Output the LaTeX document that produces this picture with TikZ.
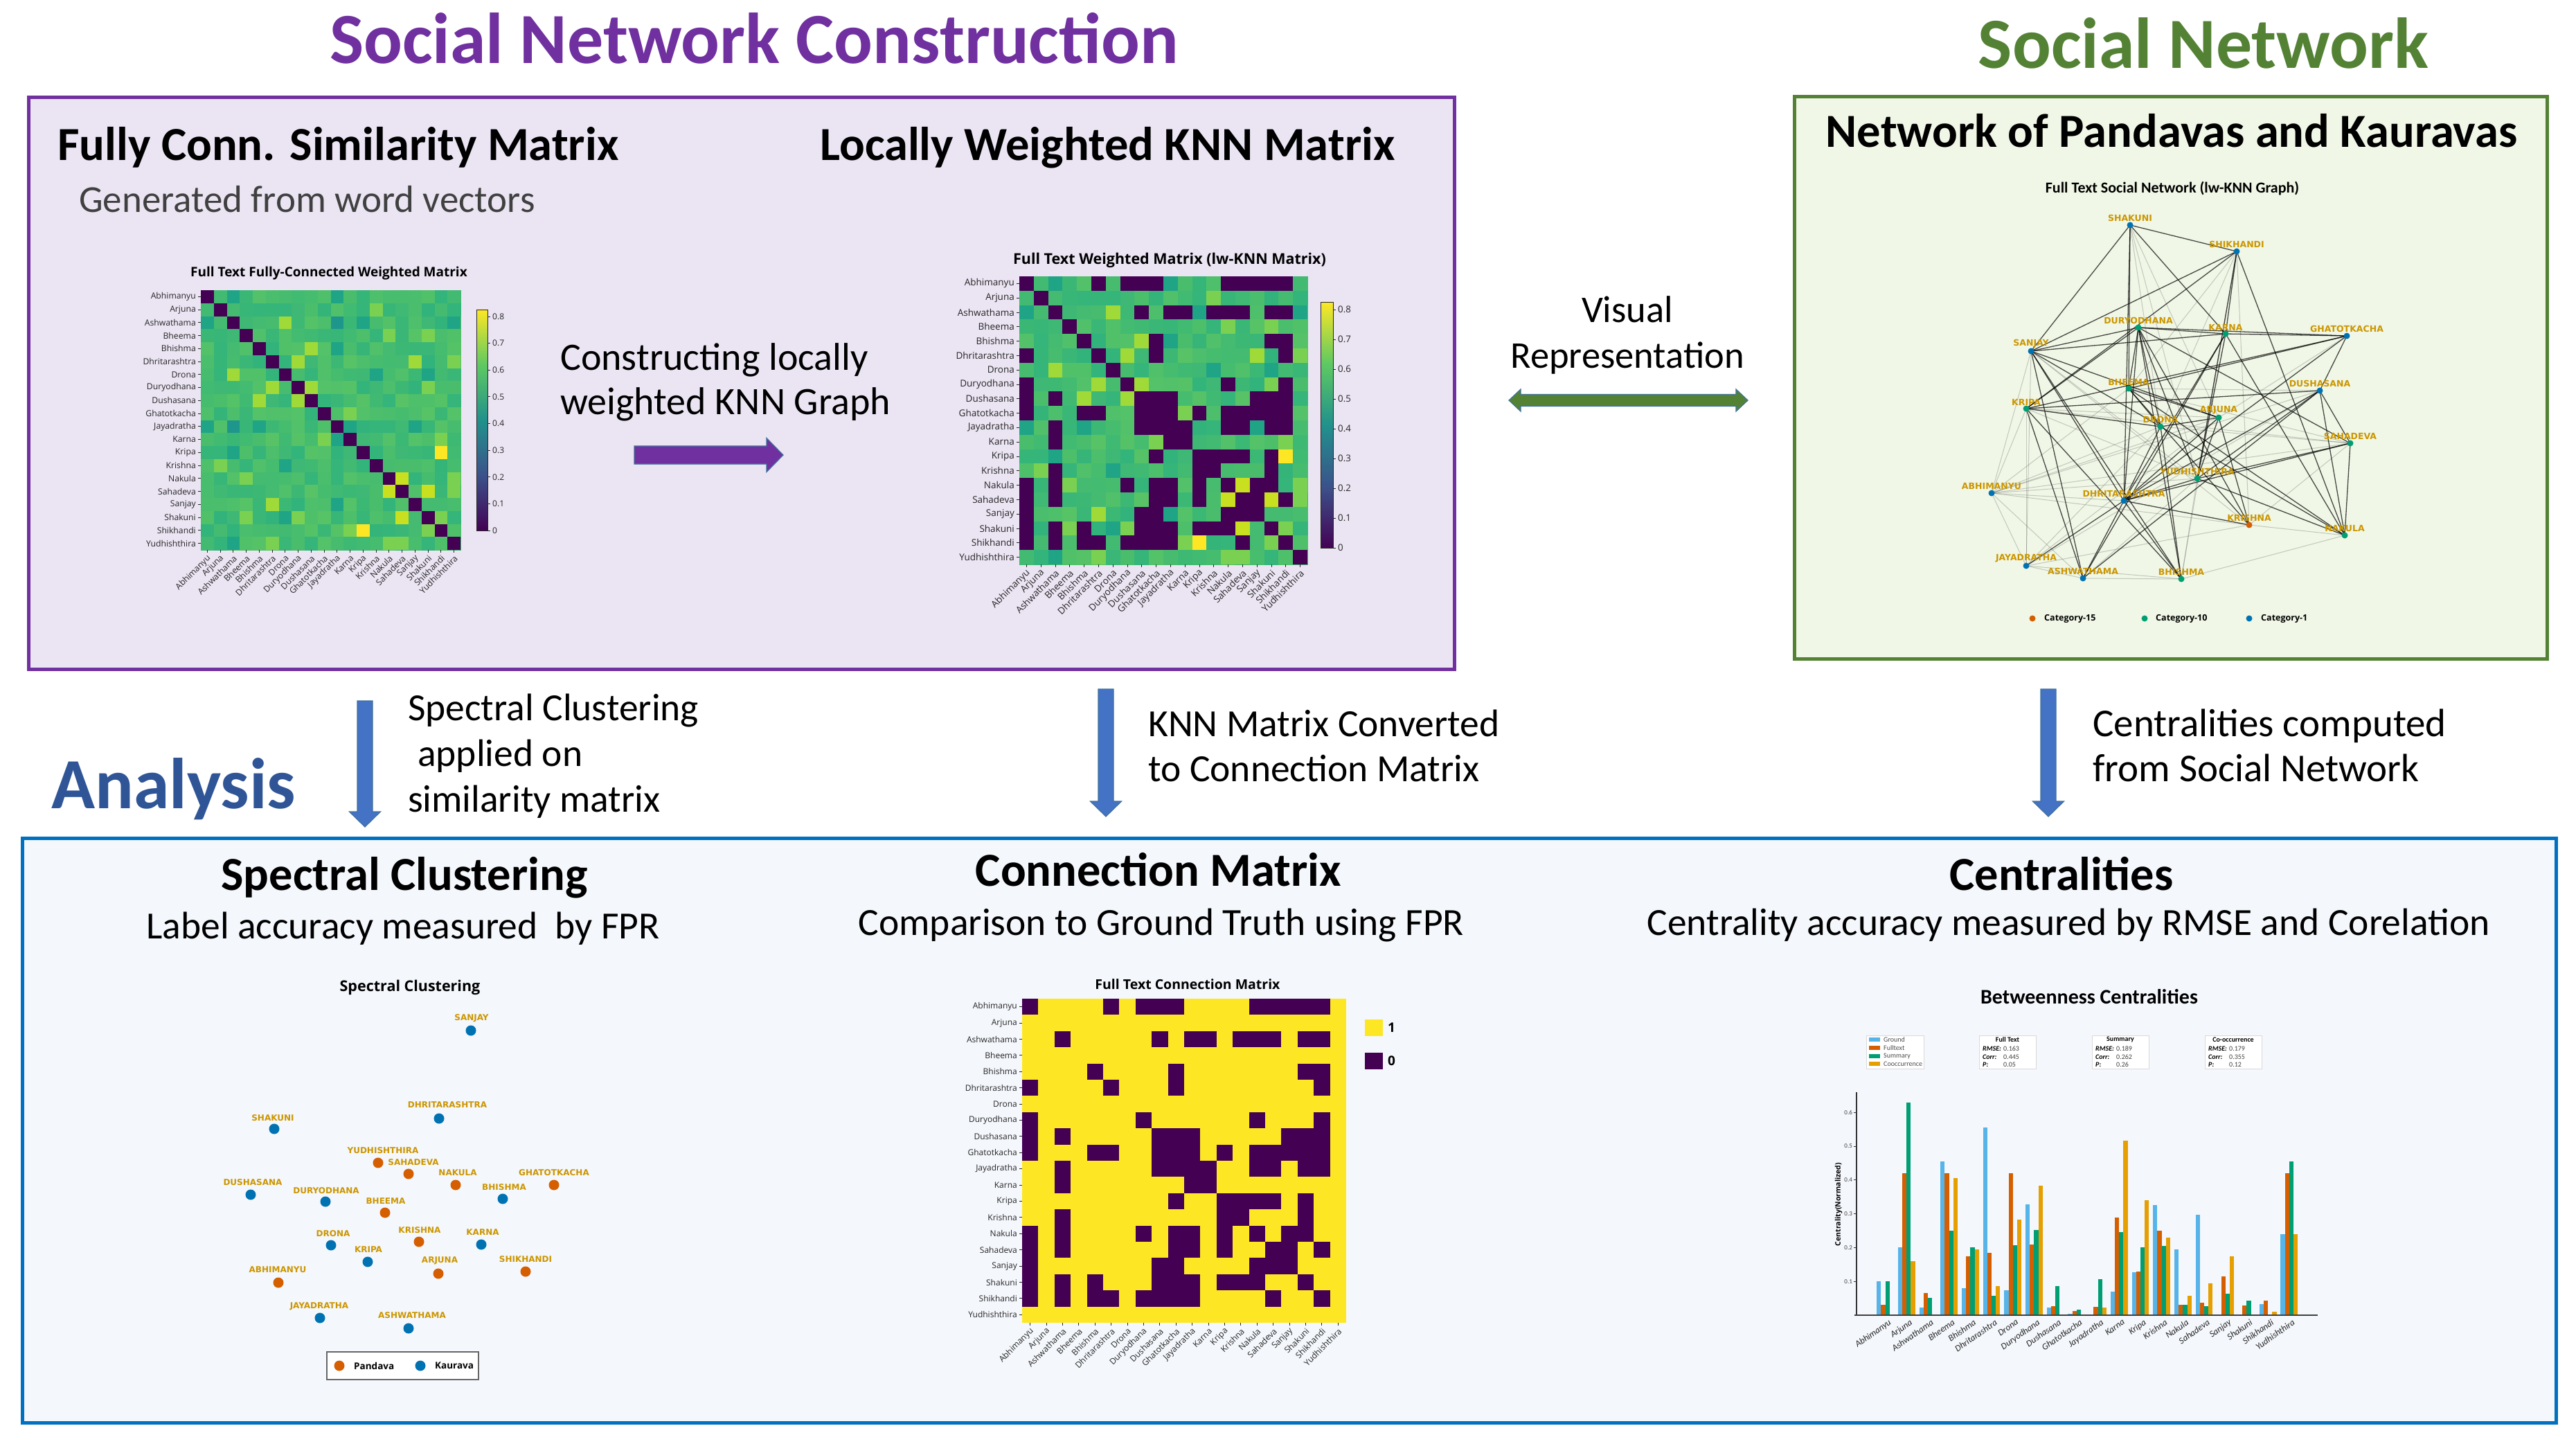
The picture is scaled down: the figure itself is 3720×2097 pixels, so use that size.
\documentclass[tikz,border=0pt]{standalone}
\usepackage{fontspec}
\setmainfont{Carlito}
\newfontfamily\plotf{Open Sans}
\newfontfamily\labf{DejaVu Sans}
\usetikzlibrary{calc}
\newcommand\fsz[1]{\fontsize{#1}{#1}\selectfont}

\definecolor{tpurple}{RGB}{112,48,160}
\definecolor{tgreen}{RGB}{84,130,53}
\definecolor{tblue}{RGB}{47,85,151}
\definecolor{boxblue}{RGB}{0,112,192}
\definecolor{arrblue}{RGB}{68,114,196}
\definecolor{arroutline}{RGB}{65,113,156}
\definecolor{fillpurple}{RGB}{235,228,243}
\definecolor{fillgreen}{RGB}{240,247,230}
\definecolor{fillblue}{RGB}{244,247,252}
\definecolor{txtgray}{RGB}{64,64,64}
\definecolor{vir0}{RGB}{68,1,84}
\definecolor{vir1}{RGB}{59,82,139}
\definecolor{vir2}{RGB}{33,145,140}
\definecolor{vir3}{RGB}{94,201,98}
\definecolor{vir4}{RGB}{253,231,37}
\definecolor{vLo}{RGB}{42,176,127}
\definecolor{vHi}{RGB}{108,204,90}
\definecolor{hA}{RGB}{122,209,81}
\definecolor{hB}{RGB}{160,218,57}
\definecolor{hC}{RGB}{200,224,32}
\definecolor{hD}{RGB}{253,231,37}
\definecolor{lA}{RGB}{32,164,134}
\definecolor{lB}{RGB}{31,150,139}
\definecolor{cblue}{RGB}{0,114,178}
\definecolor{cgreen}{RGB}{0,158,115}
\definecolor{corange}{RGB}{213,94,0}
\definecolor{cgold}{RGB}{204,150,0}
\definecolor{bGround}{RGB}{86,180,233}
\definecolor{bFull}{RGB}{213,94,0}
\definecolor{bSum}{RGB}{0,158,115}
\definecolor{bCo}{RGB}{230,159,0}
\definecolor{plottxt}{RGB}{38,38,38}

\def\names{Abhimanyu,Arjuna,Ashwathama,Bheema,Bhishma,Dhritarashtra,Drona,Duryodhana,Dushasana,Ghatotkacha,Jayadratha,Karna,Kripa,Krishna,Nakula,Sahadeva,Sanjay,Shakuni,Shikhandi,Yudhishthira}
\def\zerolist{0/{0,5,7,8,9,14,15,16,17,18},2/{2,8,10,11,13,14,15,17,18},4/{4,9,17,18},5/{0,5,9,18},7/{0,7,14,18},8/{0,2,8,9,10,16,17,18},9/{0,4,5,8,9,10,12,14,15,16,17,18},10/{2,8,9,10,11,14,15,17,18},11/{2,10,11},12/{9,12,13,14,15,17},13/{2,12,13,17},14/{0,2,7,9,10,12,14,16,17},15/{0,2,9,10,12,15,16,18},16/{0,8,9,14,15,16},17/{0,2,4,8,9,10,12,13,14,17},18/{0,2,4,5,7,8,9,10,15,18}}
\def\hilist{2/6/hB,4/8/hB,5/7/hB,7/8/hB,5/16/hB,12/18/hD,14/15/hC,15/17/hC,9/11/hA,7/17/hA,17/18/hA,1/13/hA,14/19/hA,15/19/hA,5/19/hA,3/14/hA,3/17/hA,11/18/hA,0/2/lA,0/10/lA,2/10/lB,2/19/lA,6/13/lA,10/11/lA,2/12/lA,4/10/lA,10/16/lA,6/17/lA}

% heatmap: x0 y0 cell mode(0 full,1 knn,2 connection)
\newcommand\heatmap[4]{%
  \ifnum#4=2
    \fill[vir4] (#1,#2) rectangle ({#1+20*#3},{#2+20*#3});
  \else
    \foreach \r in {0,...,19}{\foreach \c in {0,...,19}{%
      \pgfmathtruncatemacro\p{10+mod(13*(\r+\c)+7*\r*\c+3*mod((\r+\c)*(\r+\c),17)+11,61)}%
      \fill[vHi!\p!vLo] ({#1+\c*#3},{#2+\r*#3}) rectangle ({#1+(\c+1)*#3+0.5},{#2+(\r+1)*#3+0.5});
    }}
    \foreach \a/\b/\col in \hilist {%
      \fill[\col] ({#1+\b*#3},{#2+\a*#3}) rectangle ({#1+(\b+1)*#3},{#2+(\a+1)*#3});
      \fill[\col] ({#1+\a*#3},{#2+\b*#3}) rectangle ({#1+(\a+1)*#3},{#2+(\b+1)*#3});
    }
    \foreach \k in {0,...,19}{\fill[vir0] ({#1+\k*#3},{#2+\k*#3}) rectangle ({#1+(\k+1)*#3},{#2+(\k+1)*#3});}
  \fi
  \ifnum#4>0
    \foreach \r/\cols in \zerolist {\foreach \c in \cols {%
      \fill[vir0] ({#1+\c*#3},{#2+\r*#3}) rectangle ({#1+(\c+1)*#3},{#2+(\r+1)*#3});}}
  \fi
}
% labels: x0 y0 cell fontsize prefix
\newcommand\matlabels[5]{%
  \foreach \nm [count=\k from 0] in \names {%
    \node[anchor=east, font=\plotf\fsz{#4}, text=plottxt, inner sep=0] (#5r\k) at ({#1-7},{#2+(\k+0.5)*#3}) {\nm};
    \draw[plottxt, line width=0.9] ({#1-4},{#2+(\k+0.5)*#3}) -- ({#1},{#2+(\k+0.5)*#3});
    \draw[plottxt, line width=0.9] ({#1+(\k+0.5)*#3},{#2+20*#3}) -- ({#1+(\k+0.5)*#3},{#2+20*#3+4});
    \node[anchor=east, rotate=45, font=\plotf\fsz{#4}, text=plottxt, inner sep=0] (#5c\k) at ({#1+(\k+0.5)*#3+3},{#2+20*#3+10}) {\nm};
  }}
% colorbar: x ytop ybot width fontsize prefix
\newcommand\cbar[6]{%
  \pgfmathsetmacro\hh{(#3-#2)/4}%
  \shade[bottom color=vir0, top color=vir1] (#1,#3) rectangle ({#1+#4},{#3-\hh});
  \shade[bottom color=vir1, top color=vir2] (#1,{#3-\hh}) rectangle ({#1+#4},{#3-2*\hh});
  \shade[bottom color=vir2, top color=vir3] (#1,{#3-2*\hh}) rectangle ({#1+#4},{#3-3*\hh});
  \shade[bottom color=vir3, top color=vir4] (#1,{#3-3*\hh}) rectangle ({#1+#4},#2);
  \draw[black!85, line width=1] (#1,#2) rectangle ({#1+#4},#3);
  \foreach \v in {0,1,...,8} {%
    \pgfmathsetmacro\yy{#3-(\v/8.26)*(#3-#2)}%
    \draw[plottxt, line width=0.9] ({#1+#4},\yy) -- ({#1+#4+4},\yy);
    \node[anchor=west, font=\plotf\fsz{#5}, text=plottxt, inner sep=0] (#6t\v) at ({#1+#4+7},\yy) {\ifnum\v=0 0\else 0.\v\fi};
  }}
% down block arrow between two named coordinates
\newcommand\darrow[2]{%
  \filldraw[fill=arrblue, draw=arroutline, line width=1.2] ($(#1)+(-11,0)$) -- ($(#1)+(11,0)$) -- ($(#2)+(11,-22)$) -- ($(#2)+(22.5,-22)$) -- (#2) -- ($(#2)+(-22.5,-22)$) -- ($(#2)+(-11,-22)$) -- cycle;}

\begin{document}
\begin{tikzpicture}[x=1pt,y=-1pt,
  bigtitle/.style={font=\bfseries\fsz{104}, inner sep=0, anchor=base},
  head/.style={font=\bfseries\fsz{68.5}, inner sep=0},
  body/.style={font=\fsz{55.5}, inner sep=0},
  ptitle/.style={font=\plotf\bfseries\fsz{#1}, inner sep=0, text=black},
  gdot/.style={circle, inner sep=0, minimum size=9, label distance=3},
  glab/.style={font=\labf\bfseries\fsz{12.5}, text=cgold, inner sep=0},
  slab/.style={font=\labf\bfseries\fsz{12}, text=cgold, inner sep=0},
  sdot/.style={circle, inner sep=0, minimum size=15},
  dk/.style={black, opacity=0.7, line width=1.3},
  lt/.style={black!70, opacity=0.28, line width=1},
  legtxt/.style={font=\fsz{10}, text=black!70, inner sep=0, anchor=west},
  stt/.style={font=\bfseries\fsz{10}, inner sep=0},
  stl/.style={font=\bfseries\itshape\fsz{10}, inner sep=0, anchor=west},
  stv/.style={font=\fsz{10}, text=black!75, inner sep=0, anchor=west}
]
\useasboundingbox (0,0) rectangle (3720,2097);
\fill[white] (0,0) rectangle (3720,2097);

% ---------------- titles
\node[bigtitle, text=tpurple] (tSNC) at (1089,91) {Social Network Construction};
\node[bigtitle, text=tgreen] (tSN) at (3182,98) {Social Network};
\node[bigtitle, anchor=base west, text=tblue] (tAn) at (74,1167) {Analysis};

% ---------------- boxes
\draw[draw=tpurple, fill=fillpurple, line width=5] (41,140) rectangle (2100,966);
\draw[draw=tgreen, fill=fillgreen, line width=5] (2591,139) rectangle (3678,951);
\draw[draw=boxblue, fill=fillblue, line width=5] (32,1210) rectangle (3691,2054);

% ---------------- top-left box text
\node[head, anchor=base west] (h1) at (83,231) {Fully Conn. Similarity Matrix};
\node[body, anchor=base west, text=txtgray, font=\fsz{55}] (h1s) at (114,306) {Generated from word vectors};
\node[head, anchor=base west] (h2) at (1184,231) {Locally Weighted KNN Matrix};
\node[body, anchor=base west, font=\fsz{56}] (c1) at (809,534) {Constructing locally};
\node[body, anchor=base west, font=\fsz{56}] (c2) at (809,598) {weighted KNN Graph};

% purple arrow
\coordinate (pa1) at (916,657); \coordinate (pa2) at (1131,657);
\filldraw[fill=tpurple, draw=arroutline, line width=1.2] ($(pa1)+(0,-13)$) -- ($(pa2)+(-24,-13)$) -- ($(pa2)+(-24,-24.5)$) -- (pa2) -- ($(pa2)+(-24,24.5)$) -- ($(pa2)+(-24,13)$) -- ($(pa1)+(0,13)$) -- cycle;

% matrix 1
\node[ptitle=19] (m1t) at (475,395) {Full Text Fully-Connected Weighted Matrix};
\heatmap{290}{419}{18.75}{0}
\matlabels{290}{419}{18.75}{12.2}{mA}
\cbar{688}{447}{766}{16}{12}{cA}

% matrix 2
\node[ptitle=21.5] (m2t) at (1689,376) {Full Text Weighted Matrix (lw-KNN Matrix)};
\heatmap{1472}{399}{20.8}{1}
\matlabels{1472}{399}{20.8}{13.5}{mB}
\cbar{1907}{436}{791}{18}{13.3}{cB}

% visual representation
\node[body, anchor=base, font=\fsz{54.5}] (v1) at (2350,465) {Visual};
\node[body, anchor=base, font=\fsz{54.5}] (v2) at (2350,531) {Representation};
\coordinate (ga1) at (2179,578); \coordinate (ga2) at (2524,578);
\filldraw[fill=tgreen, draw=arroutline, line width=1.2] (ga1) -- ($(ga1)+(17,-16)$) -- ($(ga1)+(17,-8.5)$) -- ($(ga2)+(-17,-8.5)$) -- ($(ga2)+(-17,-16)$) -- (ga2) -- ($(ga2)+(-17,16)$) -- ($(ga2)+(-17,8.5)$) -- ($(ga1)+(17,8.5)$) -- ($(ga1)+(17,16)$) -- cycle;

% ---------------- network box
\node[head, anchor=base] (h3) at (3136,212) {Network of Pandavas and Kauravas};
\node[font=\bfseries\fsz{22}, inner sep=0] (gt) at (3137,272) {Full Text Social Network (lw-KNN Graph)};
\foreach \n/\x/\y in {SHA/3076/325,SHI/3230/363,DUR/3088/473,KAR/3214/482,GHA/3389/485,SAN/2933/507,BHE/3074/561,DUS/3350/564,KRI/2926/590,ARJ/3204/603,DRO/3120/616,SAH/3394/640,YUD/3173/691,ABH/2876/712,DHR/3067/723,KRS/3248/758,NAK/3386/773,JAY/2926/817,ASH/3008/835,BHI/3150/836}
  \coordinate (g\n) at (\x,\y);
\foreach \a/\b in {ABH/SAN,ABH/KRI,ABH/BHE,ABH/DRO,ABH/ARJ,ABH/YUD,ABH/KRS,ABH/JAY,ABH/ASH,ABH/DUS,ABH/SAH,ABH/DHR,JAY/KRI,JAY/SAN,JAY/DRO,JAY/ARJ,JAY/ASH,JAY/BHI,JAY/KRS,JAY/DUS,BHI/NAK,ASH/BHI,KRS/NAK,KRI/SAH,KRI/ARJ,SHA/DRO,SHA/YUD,SHA/ARJ,SHI/DRO,SHI/BHE,SHI/KRS,SHI/BHI,SAN/YUD,SAN/KRS,BHE/SAH,BHE/DUS,KRI/YUD,DRO/SAH,ARJ/GHA,BHI/YUD,ASH/YUD,KRS/SAH}
  \draw[lt] (g\a) -- (g\b);
\foreach \a/\b in {SHA/SHI,SHA/SAN,SHA/BHE,SHA/DHR,SHA/KAR,SHI/SAN,SHI/KRI,SHI/KAR,SHI/YUD,SHI/NAK,DUR/KAR,DUR/GHA,DUR/SAN,DUR/KRI,DUR/BHE,DUR/DHR,DUR/DRO,DUR/YUD,DUR/KRS,DUR/BHI,DUR/SAH,KAR/GHA,KAR/SAN,KAR/YUD,KAR/NAK,KAR/DHR,KAR/ASH,GHA/BHE,GHA/DUS,GHA/DHR,GHA/KRI,SAN/ARJ,SAN/DHR,SAN/ASH,SAN/BHI,SAN/DRO,BHE/ARJ,BHE/KRS,BHE/DRO,BHE/NAK,KRI/DRO,KRI/DUS,KRI/ASH,KRI/BHI,DUS/NAK,DUS/DHR,DUS/YUD,DUS/ASH,DUS/SAH,ARJ/DHR,ARJ/YUD,ARJ/KRS,ARJ/DRO,DRO/DHR,DRO/NAK,DRO/BHI,SAH/YUD,SAH/NAK,SAH/DHR,YUD/DHR,YUD/NAK,DHR/KRS,DHR/JAY,DHR/ASH,DHR/BHI}
  \draw[dk] (g\a) -- (g\b);
\foreach \n/\c/\t in {SHA/cblue/SHAKUNI,SHI/cblue/SHIKHANDI,DUR/cgreen/DURYODHANA,KAR/cgreen/KARNA,GHA/cblue/GHATOTKACHA,SAN/cblue/SANJAY,BHE/cgreen/BHEEMA,DUS/cblue/DUSHASANA,KRI/cgreen/KRIPA,ARJ/cgreen/ARJUNA,DRO/cgreen/DRONA,SAH/cgreen/SAHADEVA,YUD/cgreen/YUDHISHTHIRA,ABH/cblue/ABHIMANYU,DHR/cblue/DHRITARASHTRA,KRS/corange/KRISHNA,NAK/cgreen/NAKULA,JAY/cblue/JAYADRATHA,ASH/cblue/ASHWATHAMA,BHI/cgreen/BHISHMA}
  \node[gdot, fill=\c, label={[glab]above:\t}] (d\n) at (g\n) {};
\node[gdot, fill=corange] (lg1) at (2935,893) {};
\node[font=\plotf\bfseries\fsz{12.5}, inner sep=0, anchor=west] (lg1t) at (2952,893) {Category-15};
\node[gdot, fill=cgreen] (lg2) at (3097,893) {};
\node[font=\plotf\bfseries\fsz{12.5}, inner sep=0, anchor=west] (lg2t) at (3113,893) {Category-10};
\node[gdot, fill=cblue] (lg3) at (3248,893) {};
\node[font=\plotf\bfseries\fsz{12.5}, inner sep=0, anchor=west] (lg3t) at (3265,893) {Category-1};

% ---------------- down arrows + text
\coordinate (a1s) at (527,1012); \coordinate (a1e) at (527,1194);
\coordinate (a2s) at (1597,995); \coordinate (a2e) at (1597,1179);
\coordinate (a3s) at (2958,995); \coordinate (a3e) at (2958,1179);
\darrow{a1s}{a1e}
\darrow{a2s}{a2e}
\darrow{a3s}{a3e}
\node[body, anchor=base west] (s1) at (589,1040) {Spectral Clustering};
\node[body, anchor=base west] (s2) at (603,1106) {applied on};
\node[body, anchor=base west] (s3) at (589,1172) {similarity matrix};
\node[body, anchor=base west] (k1) at (1658,1063) {KNN Matrix Converted};
\node[body, anchor=base west] (k2) at (1658,1128) {to Connection Matrix};
\node[body, anchor=base west, font=\fsz{57}] (e1) at (3022,1063) {Centralities computed};
\node[body, anchor=base west, font=\fsz{57}] (e2) at (3022,1128) {from Social Network};

% ---------------- bottom headings
\node[head, anchor=base] (b1) at (584,1285) {Spectral Clustering};
\node[body, anchor=base] (b1s) at (582,1355) {Label accuracy measured \ by FPR};
\node[head, anchor=base] (b2) at (1673,1279) {Connection Matrix};
\node[body, anchor=base] (b2s) at (1677,1350) {Comparison to Ground Truth using FPR};
\node[head, anchor=base] (b3) at (2977,1285) {Centralities};
\node[body, anchor=base] (b3s) at (2987,1350) {Centrality accuracy measured by RMSE and Corelation};

% ---------------- spectral clustering plot
\node[ptitle=21.5] (sct) at (592,1426) {Spectral Clustering};
\foreach \t/\x/\y/\c/\lx/\ly in {SANJAY/680/1488/cblue/681/1470,DHRITARASHTRA/634/1615/cblue/646/1595,SHAKUNI/396/1630/cblue/394/1614,YUDHISHTHIRA/546/1679/corange/553/1661,SAHADEVA/590/1695/corange/597/1678,NAKULA/658/1711/corange/661/1693,GHATOTKACHA/800/1711/corange/800/1693,DUSHASANA/362/1725/cblue/365/1707,DURYODHANA/470/1735/cblue/471/1719,BHISHMA/726/1731/cblue/728/1714,BHEEMA/556/1751/corange/557/1734,DRONA/478/1798/cblue/481/1781,KRISHNA/605/1793/corange/606/1776,KARNA/695/1797/cblue/697/1779,KRIPA/531/1822/cblue/532/1804,ARJUNA/633/1839/corange/635/1820,SHIKHANDI/759/1836/corange/759/1818,ABHIMANYU/402/1852/corange/401/1833,JAYADRATHA/462/1903/cblue/461/1886,ASHWATHAMA/590/1918/cblue/595/1899}
{
  \node[sdot, fill=\c] (sp\t) at (\x,\y) {};
  \node[slab] (spl\t) at (\lx,\ly) {\t};
}
\draw[black!60, line width=1.2, fill=white] (472,1952) rectangle (691,1992);
\node[sdot, fill=corange] (spL1) at (490,1972) {};
\node[font=\plotf\bfseries\fsz{13.5}, inner sep=0, anchor=west] (spL1t) at (511,1972) {Pandava};
\node[sdot, fill=cblue] (spL2) at (607,1972) {};
\node[font=\plotf\bfseries\fsz{13.5}, inner sep=0, anchor=west] (spL2t) at (628,1972) {Kaurava};

% ---------------- connection matrix
\node[ptitle=19.5] (cmt) at (1715,1421) {Full Text Connection Matrix};
\heatmap{1476}{1442}{23.4}{2}
\matlabels{1476}{1442}{23.4}{12}{mC}
\fill[vir4] (1971,1472) rectangle (1997,1496);
\node[font=\plotf\bfseries\fsz{19}, inner sep=0, anchor=west] (cm1) at (2004,1484) {1};
\fill[vir0] (1971,1520) rectangle (1997,1544);
\node[font=\plotf\bfseries\fsz{19}, inner sep=0, anchor=west] (cm0) at (2004,1532) {0};

% ---------------- centralities bar chart
\node[font=\bfseries\fsz{30}, inner sep=0] (bct) at (3017,1439) {Betweenness Centralities};
\foreach \i/\nm/\g/\f/\s/\o in {0/Abhimanyu/0.10/0.03/0.10/0,1/Arjuna/0.20/0.42/0.63/0.16,2/Ashwathama/0.022/0.065/0.052/0,3/Bheema/0.455/0.42/0.25/0.405,4/Bhishma/0.08/0.175/0.20/0.195,5/Dhritarashtra/0.555/0.185/0.058/0.086,6/Drona/0.074/0.42/0.208/0.282,7/Duryodhana/0.327/0.21/0.253/0.384,8/Dushasana/0.022/0.026/0.086/0,9/Ghatotkacha/0.005/0.012/0.017/0,10/Jayadratha/0.002/0.024/0.106/0.022,11/Karna/0.07/0.29/0.245/0.516,12/Kripa/0.128/0.13/0.20/0.34,13/Krishna/0.325/0.25/0.205/0.229,14/Nakula/0.194/0.03/0.03/0.058,15/Sahadeva/0.298/0.036/0.027/0.095,16/Sanjay/0/0.114/0.064/0.175,17/Shakuni/0.002/0.029/0.043/0,18/Shikhandi/0.032/0.043/0/0.011,19/Yudhishthira/0.24/0.42/0.455/0.239}
{
  \pgfmathsetmacro\cx{2722.5+\i*30.7}
  \fill[bGround] ({\cx-12.4},1899) rectangle ({\cx-6.2},{1899-\g*488});
  \fill[bFull] ({\cx-6.2},1899) rectangle ({\cx},{1899-\f*488});
  \fill[bSum] ({\cx},1899) rectangle ({\cx+6.2},{1899-\s*488});
  \fill[bCo] ({\cx+6.2},1899) rectangle ({\cx+12.4},{1899-\o*488});
  \node[anchor=north east, rotate=35, font=\itshape\fsz{13}, text=plottxt, inner sep=0] (bx\i) at ({\cx+4},1904) {\nm};
}
\draw[black!80, line width=1.3] (2681,1577) -- (2681,1899);
\draw[black!75, line width=2.4] (2678,1899) -- (3347,1899);
\foreach \v in {1,...,6} {
  \draw[black!80, line width=0.8] (2677,{1899-\v*48.8}) -- (2681,{1899-\v*48.8});
  \node[anchor=east, font=\fsz{9}, text=black!75, inner sep=0] (by\v) at (2675,{1899-\v*48.8}) {0.\v};
}
\node[rotate=90, font=\plotf\bfseries\fsz{10.5}, inner sep=0] (bylab) at (2655,1739) {Centrality(Normalized)};
% legend
\draw[black!15, fill=white, line width=0.8] (2695,1495) rectangle (2778,1543);
\foreach \y/\c/\t in {1501/bGround/Ground,1513/bFull/Fulltext,1525/bSum/Summary,1536/bCo/Cooccurrence}{
  \fill[\c] (2699,{\y-3}) rectangle (2715,{\y+3});
  \node[legtxt] (bl\t) at (2720,\y) {\t};
}
\foreach \bx/\tt/\r/\co/\pp/\nm in {2858/Full Text/0.163/0.445/0.05/A,3021/Summary/0.189/0.262/0.26/B,3184/Co-occurrence/0.179/0.355/0.12/C}{
  \draw[black!15, fill=white, line width=0.8] (\bx,1495) rectangle ({\bx+82},1543);
  \node[stt] (st\nm) at ({\bx+41},1501) {\tt};
  \node[stl] (stR\nm) at ({\bx+5},1514) {RMSE:};
  \node[stv] (svR\nm) at ({\bx+35},1514) {\r};
  \node[stl] (stC\nm) at ({\bx+5},1526) {Corr:};
  \node[stv] (svC\nm) at ({\bx+35},1526) {\co};
  \node[stl] (stP\nm) at ({\bx+5},1537) {P:};
  \node[stv] (svP\nm) at ({\bx+35},1537) {\pp};
}
\end{tikzpicture}
\end{document}
